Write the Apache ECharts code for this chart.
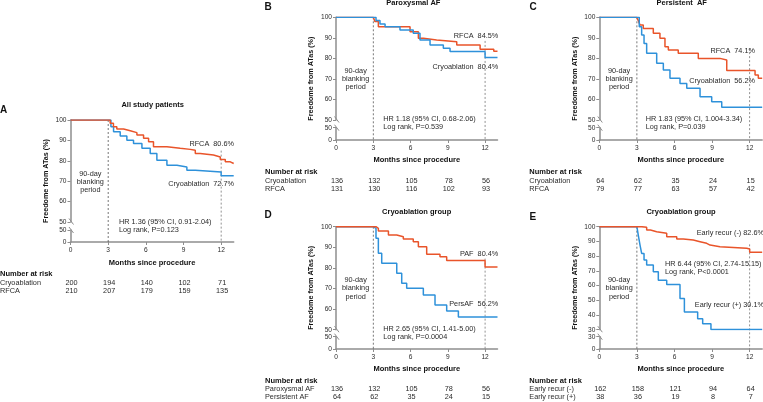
<!DOCTYPE html>
<html><head><meta charset="utf-8">
<script src="https://cdn.jsdelivr.net/npm/echarts@6/dist/echarts.min.js"></script>
<style>html,body{margin:0;padding:0;background:#fff}#c{width:763px;height:402px}</style>
</head><body><div id="c"></div>
<script>
// ---------------- DATA ----------------
const xTicks = [0, 3, 6, 9, 12];

// Panel A: all study patients
const aRfcaMonths = [0, 3, 3.16, 3.42, 3.69, 4.23, 4.76, 5.29, 5.82, 6.22, 6.61, 7.68, 8.74, 9.54, 9.94, 10.33, 11.39, 11.93, 12.33, 12.73, 13];
const aRfcaValues = [100, 100, 98.4, 96.7, 95.6, 94.7, 93.8, 92.6, 91.0, 89.3, 86.9, 86.1, 85.6, 85.2, 83.6, 82.8, 81.9, 80.6, 79.5, 78.7, 78.7];
const aCryoMonths = [0, 3, 3.22, 3.43, 3.96, 4.49, 5.02, 5.69, 6.35, 6.88, 7.68, 8.48, 9.27, 9.94, 12, 13];
const aCryoValues = [100, 100, 96.7, 94.3, 92.1, 90.1, 88.5, 86.1, 83.6, 80.3, 77.8, 77.0, 75.4, 74.5, 72.7, 72.7];
const aRiskCryo = [200, 194, 140, 102, 71];
const aRiskRfca = [210, 207, 179, 159, 135];

// Panel B: paroxysmal AF
const bRfcaMonths = [0, 3, 3.14, 3.41, 5.96, 6.63, 7.03, 8.1, 9.72, 11.6, 12.7, 13];
const bRfcaValues = [100, 100, 97.9, 95.4, 93.0, 89.8, 88.9, 88.1, 86.5, 84.5, 83.5, 83.5];
const bCryoMonths = [0, 3, 3.22, 3.54, 3.95, 5.15, 6.22, 6.76, 7.57, 8.64, 9.18, 12, 13];
const bCryoValues = [100, 100, 98.4, 96.7, 95.4, 93.8, 92.2, 88.9, 86.5, 84.9, 83.3, 80.4, 80.4];
const bRiskCryo = [136, 132, 105, 78, 56];
const bRiskRfca = [131, 130, 116, 102, 93];

// Panel C: persistent AF
const cRfcaMonths = [0, 3, 3.11, 3.25, 3.51, 4.31, 4.84, 5.24, 5.51, 6.3, 7.9, 9.63, 10.17, 12.43, 12.69, 13];
const cRfcaValues = [100, 100, 98.4, 96.2, 94.6, 92.2, 89.8, 85.7, 84.1, 82.5, 80.0, 79.2, 74.1, 71.9, 70.3, 70.3];
const cCryoMonths = [0, 3, 3.19, 3.38, 3.57, 3.78, 4.58, 5.11, 5.64, 6.44, 6.98, 8.04, 8.97, 9.77, 13];
const cCryoValues = [100, 100, 95.4, 91.4, 87.3, 82.5, 77.6, 74.3, 70.3, 67.8, 65.4, 61.3, 58.9, 56.2, 56.2];
const cRiskCryo = [64, 62, 35, 24, 15];
const cRiskRfca = [79, 77, 63, 57, 42];

// Panel D: cryoablation group, PAF vs PersAF
const dPafMonths = [0, 3, 3.22, 3.41, 4.22, 4.89, 5.42, 6.22, 6.63, 7.3, 8.37, 8.91, 12, 13];
const dPafValues = [100, 100, 99.2, 97.9, 96.0, 95.1, 94.0, 92.7, 90.3, 86.6, 85.4, 83.6, 80.4, 80.4];
const dPersMonths = [0, 3, 3.09, 3.22, 3.41, 3.68, 4.89, 5.29, 5.69, 7.03, 7.97, 8.91, 9.85, 13];
const dPersValues = [100, 100, 99.2, 94.4, 87.1, 82.2, 77.4, 72.5, 70.1, 66.8, 62.0, 59.1, 56.2, 56.2];
const dRiskPaf = [136, 132, 105, 78, 56];
const dRiskPers = [64, 62, 35, 24, 15];

// Panel E: cryoablation group, early recurrence
const eNegMonths = [0, 3, 3.38, 3.78, 4.08, 4.58, 5.38, 6.18, 6.7, 7.5, 8.04, 8.57, 8.84, 9.63, 11.76, 12, 13];
const eNegValues = [100, 100, 99.6, 97.7, 96.6, 95.5, 93.2, 91.6, 90.9, 89.8, 88.7, 87.5, 86.4, 85.3, 84.8, 82.6, 82.6];
const ePosMonths = [0, 3, 3.11, 3.25, 3.38, 3.57, 3.78, 4.31, 4.71, 5.38, 6.44, 6.79, 7.85, 8.25, 8.91, 13];
const ePosValues = [100, 100, 94.3, 87.5, 81.8, 77.3, 73.9, 69.3, 63.6, 60.7, 51.2, 42.0, 37.5, 34.1, 30.1, 30.1];
const eRiskNeg = [162, 158, 121, 94, 64];
const eRiskPos = [38, 36, 19, 8, 7];

// ---------------- STYLE / LAYOUT ----------------
const AX = '#8e8e8e', TXT = '#2b2b2b', ORANGE = '#E9542A', BLUE = '#2E91DA';
const FF = '"Liberation Sans", Arial, sans-serif';
const zip = (m, v) => m.map((t, i) => [t, v[i]]);

const panels = [
  { letter: 'A', letterPos: [0, 110.7], title: 'All study patients', titlePos: [152.7, 105.3],
    left: 70.5, width: 163.2, top: 120, upBot: 222, lowTop: 230, lowBot: 242, brk: 50,
    xNameY: 262.7, line12From: 85,
    curves: [{ m: aCryoMonths, v: aCryoValues, c: BLUE, z: 3 }, { m: aRfcaMonths, v: aRfcaValues, c: ORANGE, z: 4 }],
    labels: [['RFCA  80.6%', 234, 144.3], ['Cryoablation  72.7%', 234, 184.3]],
    hr: ['HR 1.36 (95% CI, 0.91-2.04)', 'Log rank, P=0.123'], hrPos: [119, 222.3],
    tableX: 0, tableY: 274.3, rows: [['Cryoablation', aRiskCryo], ['RFCA', aRiskRfca]] },
  { letter: 'B', letterPos: [264.5, 7.3], title: 'Paroxysmal AF', titlePos: [413.3, 3],
    left: 336, width: 161.5, top: 17.3, upBot: 120, lowTop: 127.7, lowBot: 140, brk: 50,
    xNameY: 160.3, line12From: 88.5,
    curves: [{ m: bRfcaMonths, v: bRfcaValues, c: ORANGE, z: 3 }, { m: bCryoMonths, v: bCryoValues, c: BLUE, z: 4 }],
    labels: [['RFCA  84.5%', 498.3, 36], ['Cryoablation  80.4%', 498.3, 67]],
    hr: ['HR 1.18 (95% CI, 0.68-2.06)', 'Log rank, P=0.539'], hrPos: [383.3, 119.3],
    tableX: 265, tableY: 172.3, rows: [['Cryoablation', bRiskCryo], ['RFCA', bRiskRfca]] },
  { letter: 'C', letterPos: [529.5, 7.3], title: 'Persistent  AF', titlePos: [681.7, 3],
    left: 599.3, width: 162.9, top: 17.3, upBot: 120, lowTop: 127.7, lowBot: 140, brk: 50,
    xNameY: 160.3, line12From: 85,
    curves: [{ m: cRfcaMonths, v: cRfcaValues, c: ORANGE, z: 3 }, { m: cCryoMonths, v: cCryoValues, c: BLUE, z: 4 }],
    labels: [['RFCA  74.1%', 755, 50.7], ['Cryoablation  56.2%', 755, 81]],
    hr: ['HR 1.83 (95% CI, 1.004-3.34)', 'Log rank, P=0.039'], hrPos: [645.7, 119.3],
    tableX: 529.3, tableY: 172.3, rows: [['Cryoablation', cRiskCryo], ['RFCA', cRiskRfca]] },
  { letter: 'D', letterPos: [264.5, 215.7], title: 'Cryoablation group', titlePos: [416.7, 211.7],
    left: 336, width: 161.5, top: 226.7, upBot: 329.7, lowTop: 336.7, lowBot: 349, brk: 50,
    xNameY: 369, line12From: 84.5,
    curves: [{ m: dPersMonths, v: dPersValues, c: BLUE, z: 3 }, { m: dPafMonths, v: dPafValues, c: ORANGE, z: 4 }],
    labels: [['PAF  80.4%', 498.3, 254.3], ['PersAF  56.2%', 498.3, 304]],
    hr: ['HR 2.65 (95% CI, 1.41-5.00)', 'Log rank, P=0.0004'], hrPos: [383.3, 329],
    tableX: 265, tableY: 380.7, rows: [['Paroxysmal AF', dRiskPaf], ['Persistent AF', dRiskPers]] },
  { letter: 'E', letterPos: [529.5, 217.7], title: 'Cryoablation group', titlePos: [681, 211.7],
    left: 599.3, width: 162.9, top: 226.7, upBot: 329.7, lowTop: 336.7, lowBot: 349, brk: 30,
    xNameY: 369, line12From: 88,
    curves: [{ m: ePosMonths, v: ePosValues, c: BLUE, z: 3 }, { m: eNegMonths, v: eNegValues, c: ORANGE, z: 4 }],
    labels: [['Early recur (-) 82.6%', 764, 232.7], ['Early recur (+) 30.1%', 764, 305]],
    hr: ['HR 6.44 (95% CI, 2.74-15.15)', 'Log rank, P<0.0001'], hrPos: [665, 264],
    tableX: 529.3, tableY: 381, rows: [['Early recur (-)', eRiskNeg], ['Early recur (+)', eRiskPos]] }
];

// ---------------- OPTION ----------------
const grids = [], xAxes = [], yAxes = [], series = [];
const axisLine = { show: true, onZero: false, lineStyle: { color: AX, width: 1.5 } };
const axisTick = { show: true, length: 3, lineStyle: { color: AX, width: 1 } };
const lbl = { color: TXT, fontSize: 6.6, fontFamily: FF };

panels.forEach((p, i) => {
  const gu = 2 * i, gl = 2 * i + 1;
  grids.push({ left: p.left, top: p.top, width: p.width, height: p.upBot - p.top });
  grids.push({ left: p.left, top: p.lowTop, width: p.width, height: p.lowBot - p.lowTop });
  xAxes.push({ type: 'value', gridIndex: gu, min: 0, max: 13, show: false });
  xAxes.push({ type: 'value', gridIndex: gl, min: 0, max: 13, interval: 3,
    axisLine, axisTick: Object.assign({ customValues: xTicks }, axisTick),
    axisLabel: Object.assign({ customValues: xTicks, margin: 5 }, lbl), splitLine: { show: false } });
  yAxes.push({ type: 'value', gridIndex: gu, min: p.brk, max: 100, interval: 10,
    axisLine, axisTick, axisLabel: Object.assign({ margin: 4 }, lbl), splitLine: { show: false } });
  yAxes.push({ type: 'value', gridIndex: gl, min: 0, max: p.brk, interval: p.brk,
    axisLine, axisTick, axisLabel: Object.assign({ margin: 4 }, lbl), splitLine: { show: false } });
  p.curves.forEach(cv => {
    series.push({ type: 'line', xAxisIndex: gu, yAxisIndex: gu, step: 'end', showSymbol: false,
      symbol: 'none', data: zip(cv.m, cv.v), z: cv.z, silent: true, animation: false,
      lineStyle: { color: cv.c, width: 1.5 }, itemStyle: { color: cv.c } });
  });
});

const chart = echarts.init(document.getElementById('c'));
chart.setOption({ animation: false, backgroundColor: '#fff', grid: grids, xAxis: xAxes, yAxis: yAxes, series });

// ---------------- GRAPHICS (text, reference lines, risk table) ----------------
function txt(text, x, y, opts) {
  const o = opts || {};
  const align = o.align || 'left';
  return { type: 'text', x: x, y: y, rotation: o.rot || 0, z: 10, silent: true,
    style: { text: text, x: 0, y: 0, fill: o.fill || TXT,
      font: (o.bold ? 'bold ' : '') + (o.size || 7.3) + 'px ' + FF,
      align: align, textAlign: align, verticalAlign: 'middle', textVerticalAlign: 'middle' } };
}
function seg(x1, y1, x2, y2, dash, color, w) {
  return { type: 'line', z: 1, silent: true, shape: { x1, y1, x2, y2 },
    style: { stroke: color || AX, lineWidth: w || 1, lineDash: dash || null } };
}

const g = [];
panels.forEach((p, i) => {
  const gu = 2 * i, gl = 2 * i + 1;
  const px = v => chart.convertToPixel({ xAxisIndex: gl }, v);
  const pyU = v => chart.convertToPixel({ yAxisIndex: gu }, v);
  const pyL = v => chart.convertToPixel({ yAxisIndex: gl }, v);
  const cx = p.left + p.width / 2;

  g.push(txt(p.letter, p.letterPos[0], p.letterPos[1], { bold: true, size: 10, fill: '#111' }));
  g.push(txt(p.title, p.titlePos[0], p.titlePos[1], { bold: true, size: 7.5, align: 'center', fill: '#111' }));
  g.push(txt('Freedome from ATas (%)', p.left - 24.5, (p.top + p.lowBot) / 2,
    { bold: true, size: 7.2, align: 'center', rot: Math.PI / 2, fill: '#111' }));
  g.push(txt('Months since procedure', cx, p.xNameY, { bold: true, size: 7.5, align: 'center', fill: '#111' }));

  // blanking period
  const bx = (px(0) + px(3)) / 2 + 1;
  ['90-day', 'blanking', 'period'].forEach((s, k) => g.push(txt(s, bx, p.top + 53.5 + k * 8.2, { align: 'center' })));

  // HR text
  g.push(txt(p.hr[0], p.hrPos[0], p.hrPos[1]));
  g.push(txt(p.hr[1], p.hrPos[0], p.hrPos[1] + 8));

  // curve labels
  p.labels.forEach(l => g.push(txt(l[0], l[1], l[2], { align: 'right' })));

  // dashed reference lines at 3 and 12 months
  g.push(seg(px(3), pyU(100), px(3), pyL(0), [2, 2], '#555', 0.8));
  g.push(seg(px(12), pyU(p.line12From), px(12), pyL(0), [2, 2], '#777', 0.8));

  // axis break marks
  const ax = p.left;
  g.push(seg(ax - 1.5, pyU(p.brk) - 3.5, ax + 3, pyU(p.brk) + 2.5, null, AX, 1));
  g.push(seg(ax - 1.5, pyL(p.brk) - 3, ax + 3, pyL(p.brk) + 3, null, AX, 1));

  // number at risk table
  g.push(txt('Number at risk', p.tableX, p.tableY, { bold: true, size: 7.5, fill: '#111' }));
  p.rows.forEach((r, k) => {
    const y = p.tableY + 8.4 + k * 8;
    g.push(txt(r[0], p.tableX, y));
    r[1].forEach((n, j) => g.push(txt(String(n), px(xTicks[j]) + 1, y, { align: 'center' })));
  });
});

chart.setOption({ graphic: { elements: g } });
</script>
</body></html>
